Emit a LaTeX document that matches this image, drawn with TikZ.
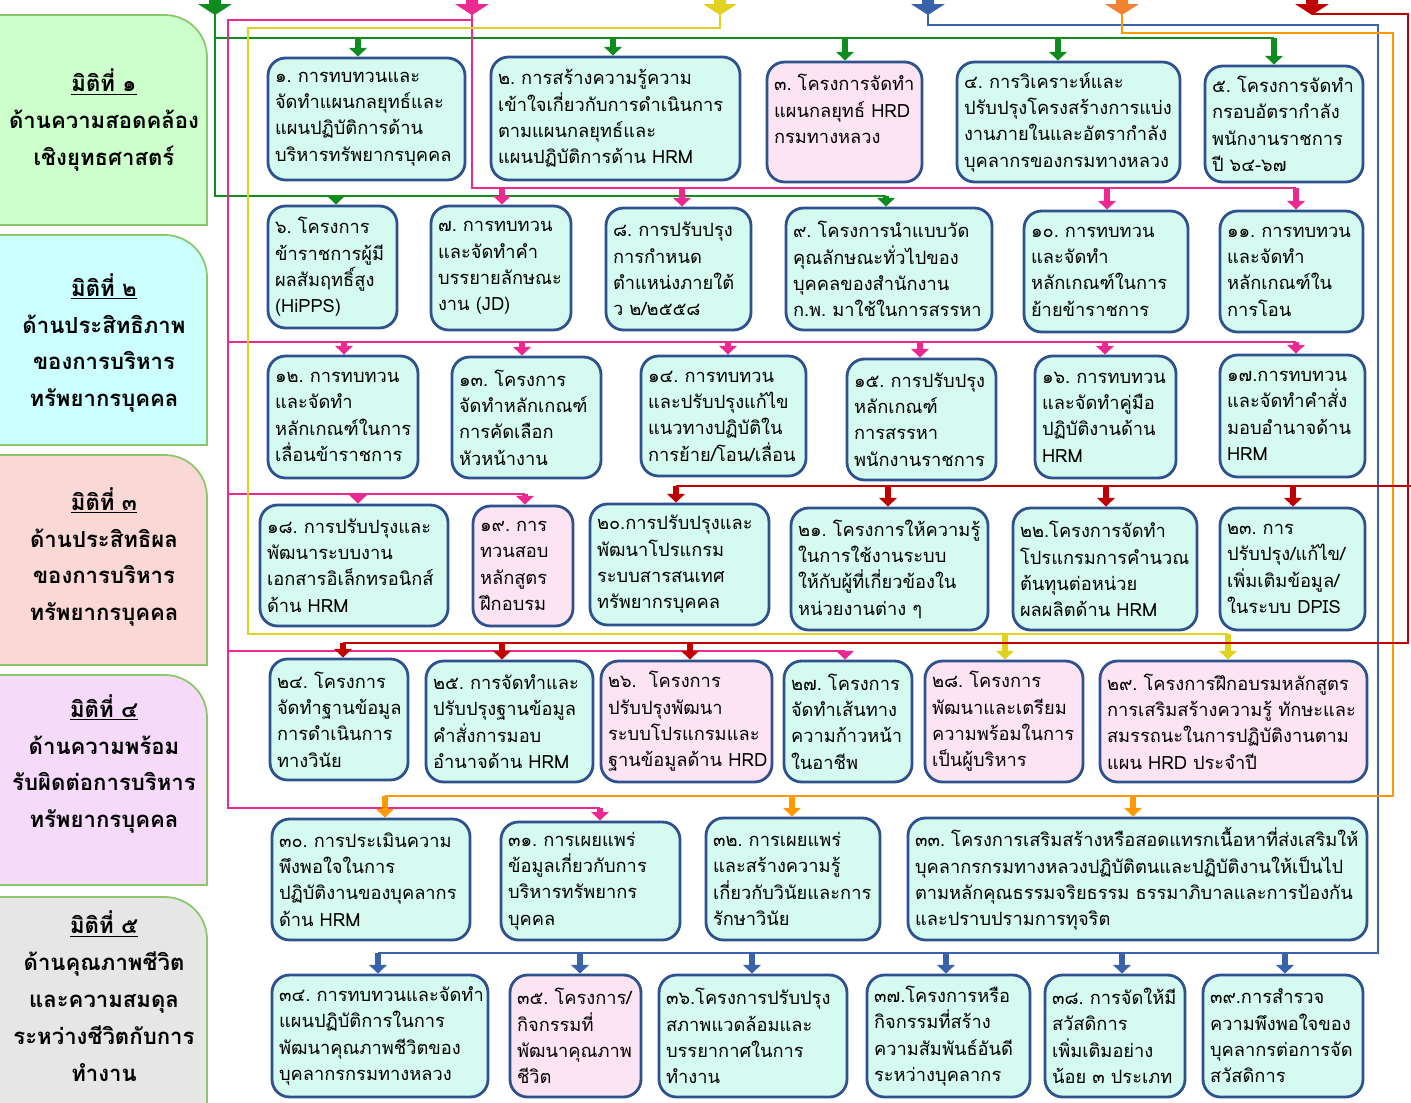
\documentclass[tikz,border=0pt]{standalone}
\usepackage{fontspec}
\setmainfont{Loma}[Script=Thai]
\usetikzlibrary{arrows.meta}
\definecolor{cG}{RGB}{14,140,30}
\definecolor{cP}{RGB}{236,40,145}
\definecolor{cY}{RGB}{226,210,30}
\definecolor{cB}{RGB}{58,98,172}
\definecolor{cO}{RGB}{255,153,0}
\definecolor{cOs}{RGB}{240,130,50}
\definecolor{cR}{RGB}{192,0,0}
\definecolor{bxB}{RGB}{47,82,143}
\definecolor{mint}{RGB}{213,250,240}
\definecolor{pinkb}{RGB}{253,228,242}
\definecolor{pnA}{RGB}{204,255,204}
\definecolor{pnB}{RGB}{204,255,255}
\definecolor{pnC}{RGB}{250,216,214}
\definecolor{pnD}{RGB}{245,218,250}
\definecolor{pnE}{RGB}{230,230,230}
\definecolor{pbd}{RGB}{140,200,105}
\newcommand\boxfont{\fontsize{10.4}{15}\selectfont}
\newcommand\panelfont{\fontsize{12.6}{21}\selectfont\bfseries}
\tikzset{
 bxm/.style={draw=bxB, fill=mint, line width=1.6pt, rounded corners=10pt, inner xsep=3.5pt, inner ysep=2pt, align=left, font=\boxfont},
 bxp/.style={bxm, fill=pinkb},
 ln/.style={line width=1.5pt},
 dr/.style={line width=3.6pt, -{Triangle[width=10pt,length=5pt]}},
 ptext/.style={align=center, font=\panelfont},
 pshape/.style={draw=pbd, line width=1pt, rounded corners=24pt},
}
\newcommand\mybox[7]{%
  \pgfmathsetmacro\myw{(#4-#2)*0.02}%
  \pgfmathsetmacro\myh{(#5-#3)*0.02}%
  \pgfmathsetmacro\mytw{(#4-#2)*0.02*28.4528-8}%
  \node[#6, minimum width=\myw cm, minimum height=\myh cm, text width=\mytw pt] (#1) at ({(#2+#4)/2},{(#3+#5)/2}) {#7};%
}
\newcommand\mydrop[4]{%
  \coordinate (d#4) at (#2,#3);
  \draw[dr,#1] (d#4) -- (d#4 |- #4.north);
}
\newcommand\mypanel[6]{%
  \begin{scope}
    \clip (-50,#2-10) rectangle (230,#3);
    \draw[pshape, fill=#4] (-40,#2) rectangle (207,#3+80);
  \end{scope}
  \draw[draw=pbd, line width=1pt] (-40,#3) -- (207,#3);
  \node[ptext] (#1) at (104,#5) {#6};
}
\newcommand\srcarrow[3]{%
  \fill[#1] (#2-6,-3) -- (#2+6,-3) -- (#2+6,4) -- (#2+17,4) -- (#2,15) -- (#2-17,4) -- (#2-6,4) -- cycle;
  \coordinate (#3) at (#2,14);
}
\begin{document}
\begin{tikzpicture}[x=0.02cm,y=-0.02cm]
\useasboundingbox (0,0) rectangle (1411,1103);
\fill[white] (0,0) rectangle (1411,1103);
% panels
\mypanel{p1}{15}{225}{pnA}{120}{\underline{มิติที่~๑}\\ด้านความสอดคล้อง\\เชิงยุทธศาสตร์}
\mypanel{p2}{235}{445}{pnB}{343}{\underline{มิติที่~๒}\\ด้านประสิทธิภาพ\\ของการบริหาร\\ทรัพยากรบุคคล}
\mypanel{p3}{455}{665}{pnC}{557}{\underline{มิติที่~๓}\\ด้านประสิทธิผล\\ของการบริหาร\\ทรัพยากรบุคคล}
\mypanel{p4}{675}{885}{pnD}{764}{\underline{มิติที่~๔}\\ด้านความพร้อม\\รับผิดต่อการบริหาร\\ทรัพยากรบุคคล}
\mypanel{p5}{897}{1125}{pnE}{996}{\underline{มิติที่~๕}\\ด้านคุณภาพชีวิต\\และความสมดุล\\ระหว่างชีวิตกับการ\\ทำงาน}
% boxes
\mybox{b1}{268}{58}{465}{180}{bxm}{๑.~การทบทวนและ\\จัดทำแผนกลยุทธ์และ\\แผนปฏิบัติการด้าน\\บริหารทรัพยากรบุคคล}
\mybox{b2}{491}{57}{740}{180}{bxm}{๒.~การสร้างความรู้ความ\\เข้าใจเกี่ยวกับการดำเนินการ\\ตามแผนกลยุทธ์และ\\แผนปฏิบัติการด้าน~HRM}
\mybox{b3}{767}{62}{922}{182}{bxp}{๓.~โครงการจัดทำ\\แผนกลยุทธ์~HRD\\กรมทางหลวง\\\mbox{}}
\mybox{b4}{957}{62}{1180}{182}{bxm}{๔.~การวิเคราะห์และ\\ปรับปรุงโครงสร้างการแบ่ง\\งานภายในและอัตรากำลัง\\บุคลากรของกรมทางหลวง}
\mybox{b5}{1205}{66}{1363}{182}{bxm}{๕.~โครงการจัดทำ\\กรอบอัตรากำลัง\\พนักงานราชการ\\ปี~๖๔-๖๗}
\mybox{b6}{268}{206}{397}{328}{bxm}{๖.~โครงการ\\ข้าราชการผู้มี\\ผลสัมฤทธิ์สูง\\(HiPPS)}
\mybox{b7}{431}{206}{571}{330}{bxm}{๗.~การทบทวน\\และจัดทำคำ\\บรรยายลักษณะ\\งาน~(JD)}
\mybox{b8}{606}{208}{751}{330}{bxm}{๘.~การปรับปรุง\\การกำหนด\\ตำแหน่งภายใต้\\ว~๒/๒๕๕๘}
\mybox{b9}{786}{208}{992}{330}{bxm}{๙.~โครงการนำแบบวัด\\คุณลักษณะทั่วไปของ\\บุคคลของสำนักงาน\\ก.พ.~มาใช้ในการสรรหา}
\mybox{b10}{1024}{211}{1188}{332}{bxm}{๑๐.~การทบทวน\\และจัดทำ\\หลักเกณฑ์ในการ\\ย้ายข้าราชการ}
\mybox{b11}{1220}{211}{1363}{332}{bxm}{๑๑.~การทบทวน\\และจัดทำ\\หลักเกณฑ์ใน\\การโอน}
\mybox{b12}{268}{356}{418}{478}{bxm}{๑๒.~การทบทวน\\และจัดทำ\\หลักเกณฑ์ในการ\\เลื่อนข้าราชการ}
\mybox{b13}{452}{357}{601}{478}{bxm}{๑๓.~โครงการ\\จัดทำหลักเกณฑ์\\การคัดเลือก\\หัวหน้างาน}
\mybox{b14}{641}{356}{806}{476}{bxm}{๑๔.~การทบทวน\\และปรับปรุงแก้ไข\\แนวทางปฏิบัติใน\\การย้าย/โอน/เลื่อน}
\mybox{b15}{847}{359}{996}{480}{bxm}{๑๕.~การปรับปรุง\\หลักเกณฑ์\\การสรรหา\\พนักงานราชการ}
\mybox{b16}{1035}{356}{1176}{478}{bxm}{๑๖.~การทบทวน\\และจัดทำคู่มือ\\ปฏิบัติงานด้าน\\HRM}
\mybox{b17}{1220}{355}{1365}{477}{bxm}{๑๗.การทบทวน\\และจัดทำคำสั่ง\\มอบอำนาจด้าน\\HRM}
\mybox{b18}{260}{505}{448}{626}{bxm}{๑๘.~การปรับปรุงและ\\พัฒนาระบบงาน\\เอกสารอิเล็กทรอนิกส์\\ด้าน~HRM}
\mybox{b19}{473}{506}{573}{626}{bxp}{๑๙.~การ\\ทวนสอบ\\หลักสูตร\\ฝึกอบรม}
\mybox{b20}{590}{504}{769}{625}{bxm}{๒๐.การปรับปรุงและ\\พัฒนาโปรแกรม\\ระบบสารสนเทศ\\ทรัพยากรบุคคล}
\mybox{b21}{791}{508}{988}{630}{bxm}{๒๑.~โครงการให้ความรู้\\ในการใช้งานระบบ\\ให้กับผู้ที่เกี่ยวข้องใน\\หน่วยงานต่าง~ๆ}
\mybox{b22}{1013}{508}{1197}{630}{bxm}{๒๒.โครงการจัดทำ\\โปรแกรมการคำนวณ\\ต้นทุนต่อหน่วย\\ผลผลิตด้าน~HRM}
\mybox{b23}{1220}{508}{1365}{630}{bxm}{๒๓.~การ\\ปรับปรุง/แก้ไข/\\เพิ่มเติมข้อมูล/\\ในระบบ~DPIS}
\mybox{b24}{270}{659}{408}{780}{bxm}{๒๔.~โครงการ\\จัดทำฐานข้อมูล\\การดำเนินการ\\ทางวินัย}
\mybox{b25}{426}{661}{593}{782}{bxm}{๒๕.~การจัดทำและ\\ปรับปรุงฐานข้อมูล\\คำสั่งการมอบ\\อำนาจด้าน~HRM}
\mybox{b26}{601}{661}{772}{782}{bxp}{๒๖.~~โครงการ\\ปรับปรุงพัฒนา\\ระบบโปรแกรมและ\\ฐานข้อมูลด้าน~HRD}
\mybox{b27}{784}{661}{912}{782}{bxm}{๒๗.~โครงการ\\จัดทำเส้นทาง\\ความก้าวหน้า\\ในอาชีพ}
\mybox{b28}{925}{661}{1083}{782}{bxp}{๒๘.~โครงการ\\พัฒนาและเตรียม\\ความพร้อมในการ\\เป็นผู้บริหาร}
\mybox{b29}{1100}{661}{1367}{782}{bxp}{๒๙.~โครงการฝึกอบรมหลักสูตร\\การเสริมสร้างความรู้~ทักษะและ\\สมรรถนะในการปฏิบัติงานตาม\\แผน~HRD~ประจำปี}
\mybox{b30}{272}{819}{470}{940}{bxm}{๓๐.~การประเมินความ\\พึงพอใจในการ\\ปฏิบัติงานของบุคลากร\\ด้าน~HRM}
\mybox{b31}{501}{822}{680}{940}{bxm}{๓๑.~การเผยแพร่\\ข้อมูลเกี่ยวกับการ\\บริหารทรัพยากร\\บุคคล}
\mybox{b32}{706}{818}{880}{940}{bxm}{๓๒.~การเผยแพร่\\และสร้างความรู้\\เกี่ยวกับวินัยและการ\\รักษาวินัย}
\mybox{b33}{908}{818}{1367}{940}{bxm}{๓๓.~โครงการเสริมสร้างหรือสอดแทรกเนื้อหาที่ส่งเสริมให้\\บุคลากรกรมทางหลวงปฏิบัติตนและปฏิบัติงานให้เป็นไป\\ตามหลักคุณธรรมจริยธรรม~ธรรมาภิบาลและการป้องกัน\\และปราบปรามการทุจริต}
\mybox{b34}{272}{975}{488}{1097}{bxm}{๓๔.~การทบทวนและจัดทำ\\แผนปฏิบัติการในการ\\พัฒนาคุณภาพชีวิตของ\\บุคลากรกรมทางหลวง}
\mybox{b35}{510}{975}{641}{1097}{bxp}{๓๕.~โครงการ/\\กิจกรรมที่\\พัฒนาคุณภาพ\\ชีวิต}
\mybox{b36}{659}{975}{847}{1097}{bxm}{๓๖.โครงการปรับปรุง\\สภาพแวดล้อมและ\\บรรยากาศในการ\\ทำงาน}
\mybox{b37}{867}{975}{1030}{1097}{bxm}{๓๗.โครงการหรือ\\กิจกรรมที่สร้าง\\ความสัมพันธ์อันดี\\ระหว่างบุคลากร}
\mybox{b38}{1045}{975}{1185}{1097}{bxm}{๓๘.~การจัดให้มี\\สวัสดิการ\\เพิ่มเติมอย่าง\\น้อย~๓~ประเภท}
\mybox{b39}{1203}{975}{1363}{1097}{bxm}{๓๙.การสำรวจ\\ความพึงพอใจของ\\บุคลากรต่อการจัด\\สวัสดิการ}
% source arrows
\srcarrow{cG}{215}{gS}
\srcarrow{cP}{472}{pS}
\srcarrow{cY}{720}{yS}
\srcarrow{cB}{928}{bS}
\srcarrow{cOs}{1122}{oS}
\srcarrow{cR}{1312}{rS}
% green
\coordinate (gA) at (215,38); \coordinate (gB) at (1274,38);
\coordinate (gC) at (215,196); \coordinate (gD) at (886,196);
\draw[ln,cG] (gS) -- (gC) -- (gD);
\draw[ln,cG] (gA) -- (gB);
\mydrop{cG}{358}{38}{b1}
\mydrop{cG}{613}{38}{b2}
\mydrop{cG}{845}{38}{b3}
\mydrop{cG}{1058}{38}{b4}
\mydrop{cG}{1274}{38}{b5}
\mydrop{cG}{336}{196}{b6}
\mydrop{cG}{886}{196}{b9}
% pink
\coordinate (pA) at (472,188); \coordinate (pB) at (1296,188);
\coordinate (pT) at (472,20); \coordinate (pL) at (228,20);
\coordinate (pM) at (228,808); \coordinate (pN) at (600,808);
\coordinate (pC) at (228,342); \coordinate (pD) at (1296,342);
\coordinate (pE) at (228,494); \coordinate (pF) at (525,494);
\coordinate (pG) at (228,651); \coordinate (pH) at (845,651);
\draw[ln,cP] (pS) -- (pA) -- (pB);
\draw[ln,cP] (pT) -- (pL) -- (pM) -- (pN);
\draw[ln,cP] (pC) -- (pD);
\draw[ln,cP] (pE) -- (pF);
\draw[ln,cP] (pG) -- (pH);
\mydrop{cP}{502}{188}{b7}
\mydrop{cP}{682}{188}{b8}
\mydrop{cP}{1107}{188}{b10}
\mydrop{cP}{1296}{188}{b11}
\mydrop{cP}{344}{342}{b12}
\mydrop{cP}{522}{342}{b13}
\mydrop{cP}{728}{342}{b14}
\mydrop{cP}{920}{342}{b15}
\mydrop{cP}{1105}{342}{b16}
\mydrop{cP}{1296}{342}{b17}
\mydrop{cP}{358}{494}{b18}
\mydrop{cP}{525}{494}{b19}
\mydrop{cP}{845}{651}{b27}
\mydrop{cP}{600}{808}{b31}
% yellow
\coordinate (yA) at (720,28); \coordinate (yB) at (248,28);
\coordinate (yC) at (248,634); \coordinate (yD) at (1228,634);
\draw[ln,cY] (yS) -- (yA) -- (yB) -- (yC) -- (yD);
\mydrop{cY}{1005}{634}{b28}
\mydrop{cY}{1228}{634}{b29}
% blue
\coordinate (bA) at (928,25); \coordinate (bB) at (1378,25);
\coordinate (bC) at (1378,953); \coordinate (bD) at (378,953);
\draw[ln,cB] (bS) -- (bA) -- (bB) -- (bC) -- (bD);
\mydrop{cB}{378}{953}{b34}
\mydrop{cB}{580}{953}{b35}
\mydrop{cB}{752}{953}{b36}
\mydrop{cB}{946}{953}{b37}
\mydrop{cB}{1122}{953}{b38}
\mydrop{cB}{1285}{953}{b39}
% orange
\coordinate (oA) at (1122,33); \coordinate (oB) at (1393,33);
\coordinate (oC) at (1393,796); \coordinate (oD) at (385,796);
\draw[ln,cO] (oS) -- (oA) -- (oB) -- (oC) -- (oD);
\mydrop{cO}{385}{796}{b30}
\mydrop{cO}{792}{796}{b32}
\mydrop{cO}{1133}{796}{b33}
% red
\coordinate (rA) at (1408,14); \coordinate (rB) at (1408,643);
\coordinate (rC) at (343,643); \coordinate (rD) at (1411,486);
\coordinate (rE) at (676,486);
\draw[ln,cR] (rS) -- (rA) -- (rB) -- (rC);
\draw[ln,cR] (rD) -- (rE);
\mydrop{cR}{676}{486}{b20}
\mydrop{cR}{888}{486}{b21}
\mydrop{cR}{1106}{486}{b22}
\mydrop{cR}{1293}{486}{b23}
\mydrop{cR}{343}{643}{b24}
\mydrop{cR}{502}{643}{b25}
\mydrop{cR}{690}{643}{b26}
\end{tikzpicture}
\end{document}
